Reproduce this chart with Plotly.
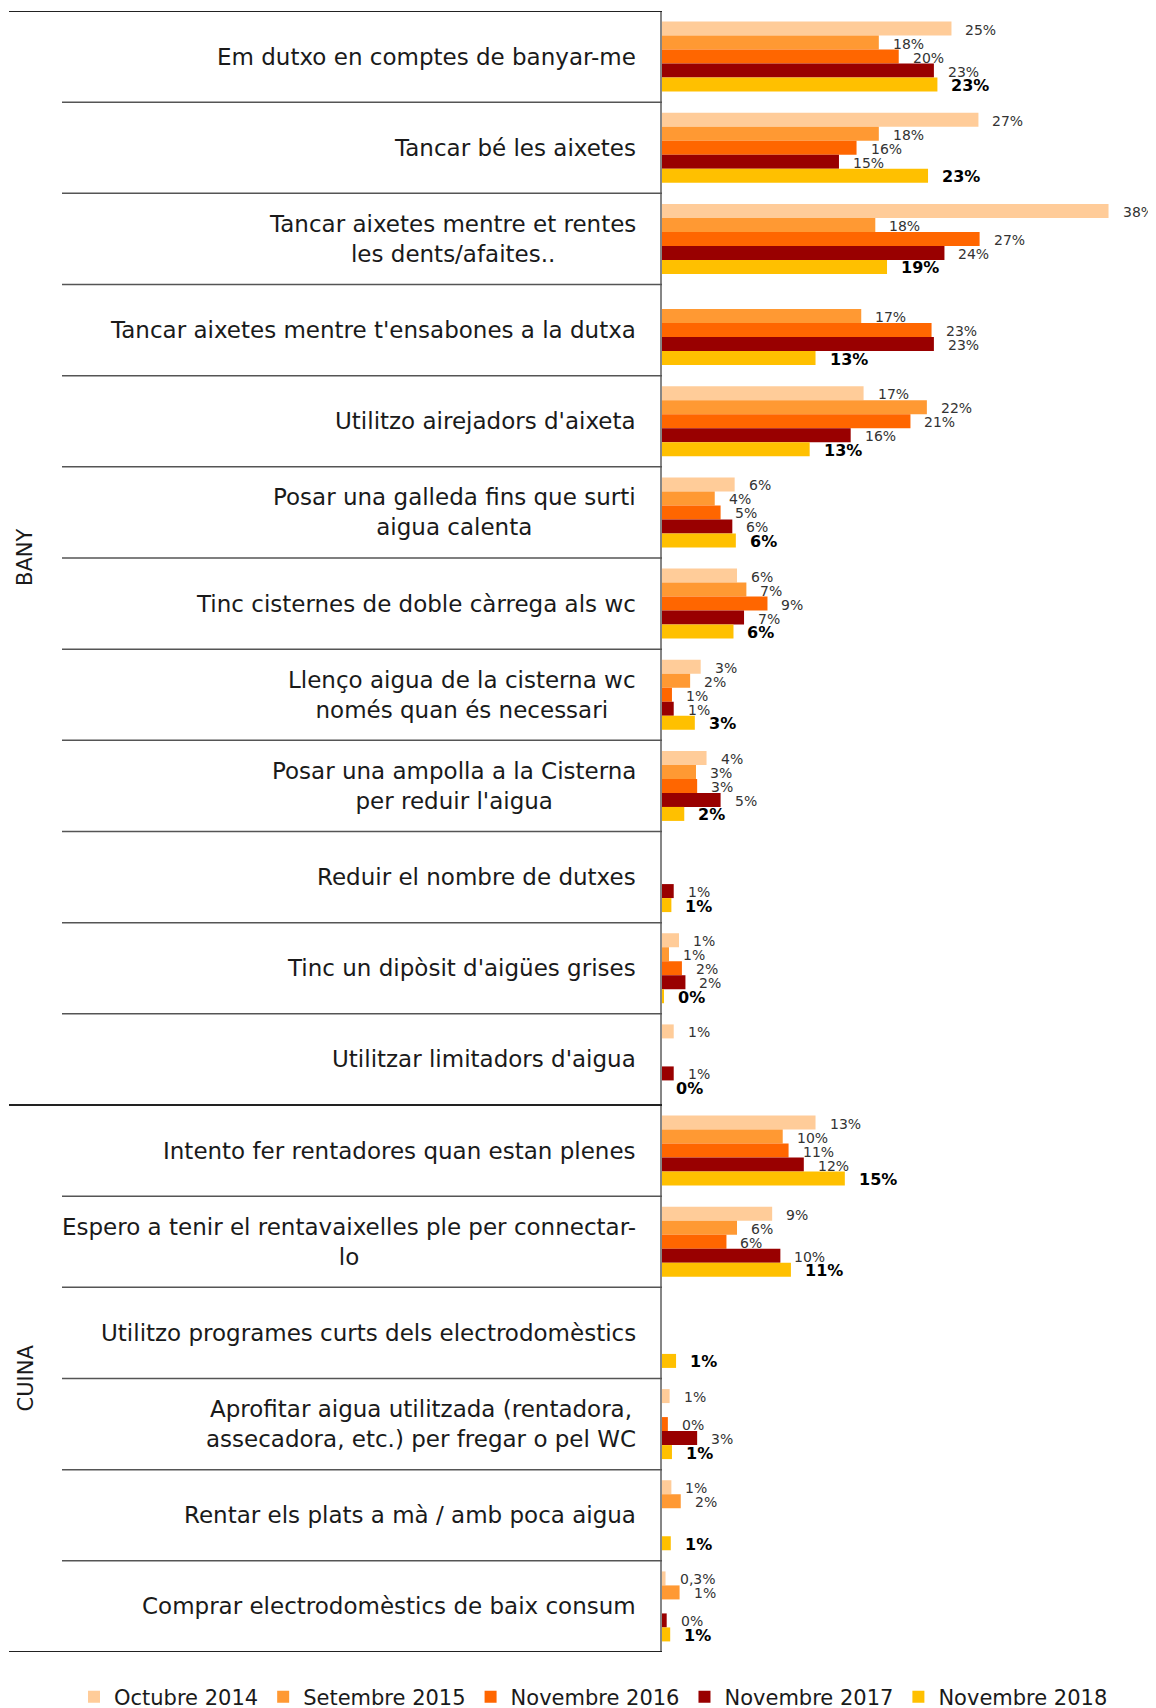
import plotly.graph_objects as go

categories = [
    "Em dutxo en comptes de banyar-me",
    "Tancar bé les aixetes",
    "Tancar aixetes mentre et rentes<br>les dents/afaites..",
    "Tancar aixetes mentre t'ensabones a la dutxa",
    "Utilitzo airejadors d'aixeta",
    "Posar una galleda fins que surti<br>aigua calenta",
    "Tinc cisternes de doble càrrega als wc",
    "Llenço aigua de la cisterna wc<br>només quan és necessari",
    "Posar una ampolla a la Cisterna<br>per reduir l'aigua",
    "Reduir el nombre de dutxes",
    "Tinc un dipòsit d'aigües grises",
    "Utilitzar limitadors d'aigua",
    "Intento fer rentadores quan estan plenes",
    "Espero a tenir el rentavaixelles ple per connectar-<br>lo",
    "Utilitzo programes curts dels electrodomèstics",
    "Aprofitar aigua utilitzada (rentadora,<br>assecadora, etc.) per fregar o pel WC",
    "Rentar els plats a mà / amb poca aigua",
    "Comprar electrodomèstics de baix consum",
]
series_names = ["Octubre 2014", "Setembre 2015", "Novembre 2016", "Novembre 2017", "Novembre 2018"]
colors = ["#FFCC99", "#FF9933", "#FF6600", "#990000", "#FFC000"]

oct14 = [24.7, 27.0, 38.1, None, 17.2, 6.2, 6.4, 3.3, 3.8, None, 1.45, 1.0, 13.1, 9.4, None, 0.65, 0.8, 0.3]
set15 = [18.5, 18.5, 18.2, 17.0, 22.6, 4.5, 7.2, 2.4, 2.9, None, 0.6, None, 10.3, 6.4, None, None, 1.6, 1.5]
nov16 = [20.2, 16.6, 27.1, 23.0, 21.2, 5.0, 9.0, 0.85, 3.0, None, 1.7, None, 10.8, 5.5, None, 0.5, None, None]
nov17 = [23.2, 15.1, 24.1, 23.2, 16.1, 6.0, 7.0, 1.0, 5.0, 1.0, 2.0, 1.0, 12.1, 10.1, None, 3.0, None, 0.4]
nov18 = [23.5, 22.7, 19.2, 13.1, 12.6, 6.3, 6.1, 2.8, 1.9, 0.8, 0.17, 0, 15.6, 11.0, 1.2, 0.85, 0.75, 0.7]

# labels as printed on the chart (rounded)
lab14 = ["25%", "27%", "38%", None, "17%", "6%", "6%", "3%", "4%", None, "1%", "1%", "13%", "9%", None, "1%", "1%", "0,3%"]
lab15 = ["18%", "18%", "18%", "17%", "22%", "4%", "7%", "2%", "3%", None, "1%", None, "10%", "6%", None, None, "2%", "1%"]
lab16 = ["20%", "16%", "27%", "23%", "21%", "5%", "9%", "1%", "3%", None, "2%", None, "11%", "6%", None, "0%", None, None]
lab17 = ["23%", "15%", "24%", "23%", "16%", "6%", "7%", "1%", "5%", "1%", "2%", "1%", "12%", "10%", None, "3%", None, "0%"]
lab18 = ["23%", "23%", "19%", "13%", "13%", "6%", "6%", "3%", "2%", "1%", "0%", "0%", "15%", "11%", "1%", "1%", "1%", "1%"]

groups = [("BANY", 0, 11), ("CUINA", 12, 17)]

values = [oct14, set15, nov16, nov17, nov18]
labels = [lab14, lab15, lab16, lab17, lab18]

# the page body has an 8px margin, so the figure is drawn smaller and
# positions below are given in figure pixels (page pixels - 8)
OFF = 8
W, H = 1156 - OFF, 1708 - OFF
ML, MR, MT, MB = 662 - OFF, 0, 11 - OFF, H - (1652 - OFF)
plot_w = W - ML - MR
plot_h = H - MT - MB
BARGAP = 0.232
n_cat = len(categories)
bar_px = plot_h / n_cat * (1 - BARGAP) / len(series_names)
XMAX = plot_w / 11.72

FONT = "DejaVu Sans"

fig = go.Figure()
for name, col, vals in zip(series_names, colors, values):
    fig.add_trace(go.Bar(y=categories, x=vals, name=name, orientation="h",
                         marker=dict(color=col, line=dict(width=0)),
                         hoverinfo="skip"))

ann = []
# value labels
for k, (vals, labs) in enumerate(zip(values, labels)):
    for i, (v, t) in enumerate(zip(vals, labs)):
        if t is None:
            continue
        bold = (k == 4)
        ann.append(dict(x=v, y=categories[i], xref="x", yref="y",
                        text=f"<b>{t}</b>" if bold else t,
                        showarrow=False, xanchor="left", yanchor="middle",
                        xshift=12, yshift=(2 - k) * bar_px - 1,
                        font=dict(family=FONT, size=16 if bold else 14,
                                  color="#000000" if bold else "#333333")))

# category labels
for c in categories:
    ann.append(dict(x=0, y=c, xref="paper", yref="y", text=c, showarrow=False,
                    xanchor="right", yanchor="middle", align="center", xshift=-24,
                    font=dict(family=FONT, size=23, color="#1a1a1a")))

# group labels
for g, a, b in groups:
    ann.append(dict(x=-(ML - (25 - OFF)) / plot_w, y=(a + b) / 2, xref="paper", yref="y",
                    text=g, textangle=-90, showarrow=False,
                    xanchor="center", yanchor="middle",
                    font=dict(family=FONT, size=21, color="#1a1a1a")))

shapes = []
short_x0 = -(ML - (62 - OFF)) / plot_w
long_x0 = -(ML - (9 - OFF)) / plot_w
long_bounds = [-0.5] + [b + 0.5 for _, _, b in groups]
for i in range(n_cat + 1):
    yb = i - 0.5
    is_long = yb in long_bounds
    shapes.append(dict(type="line", xref="paper", yref="y",
                       x0=long_x0 if is_long else short_x0, x1=0, y0=yb, y1=yb,
                       line=dict(color="#222222" if is_long else "#555555",
                                 width=2 if is_long else 1.5)))

fig.update_layout(
    width=W, height=H,
    margin=dict(l=ML, r=MR, t=MT, b=MB, pad=0, autoexpand=False),
    barmode="group", bargap=BARGAP, bargroupgap=0,
    plot_bgcolor="white", paper_bgcolor="white",
    xaxis=dict(range=[0, XMAX], visible=False, fixedrange=True),
    yaxis=dict(range=[n_cat - 0.5, -0.5], showticklabels=False, ticks="",
               showgrid=False, zeroline=False, showline=True,
               linecolor="#868686", linewidth=2),
    legend=dict(orientation="h", x=-(ML - (74 - OFF)) / plot_w, xanchor="left",
                y=-((1697 - OFF) - (H - MB)) / plot_h, yanchor="middle",
                font=dict(family=FONT, size=21, color="#1a1a1a"),
                traceorder="normal", itemwidth=30),
    annotations=ann,
    shapes=shapes,
    showlegend=True,
)

fig.write_html("out.html")
